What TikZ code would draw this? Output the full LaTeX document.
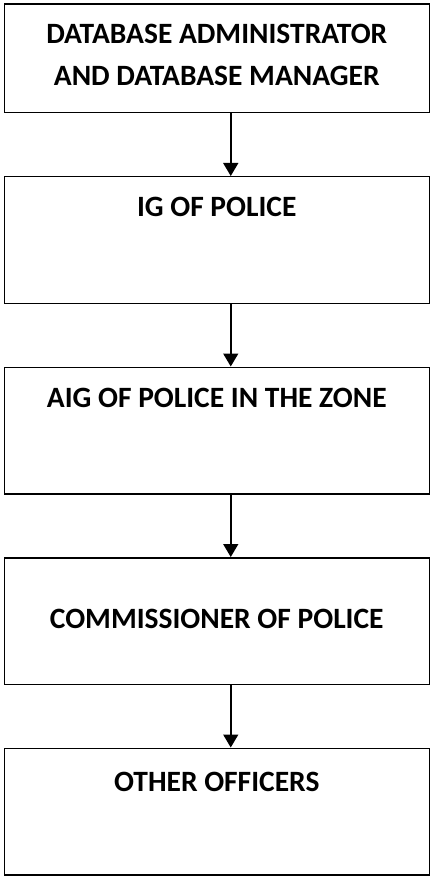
\documentclass[tikz,border=0pt]{standalone}
\usepackage{fontspec}
\setmainfont{Carlito}
\usepackage{tikz}
\usetikzlibrary{positioning, arrows.meta}

\begin{document}
\begin{tikzpicture}[
            x=1pt, y=1pt,
            node distance=62.5pt and 0pt,
            every node/.style={font=\bfseries\fontsize{29.5}{42}\selectfont},
            % Estilos
            level/.style 2 args={rectangle, draw=black, line width=1.5pt, minimum width=425pt, inner ysep=0pt, text height=#1, text depth=#2},
            arrow/.style={line width=1.5pt, -{Triangle[width=15pt,length=13pt]}}
        ]
            \useasboundingbox (0,0) rectangle (430,-877);

            % Nodos
            \node (dba) [level={80.8pt}{27.7pt}, align=center, below right=3.5pt and 3.5pt of {(0,0)}, anchor=north west] {DATABASE ADMINISTRATOR\\AND DATABASE MANAGER};
            \node (ig) [level={40pt}{86.5pt}, below=of dba] {IG OF POLICE};
            \node (aig) [level={40.5pt}{86pt}, below=of ig] {AIG OF POLICE IN THE ZONE};
            \node (cp) [level={70.5pt}{56pt}, below=of aig] {COMMISSIONER OF POLICE};
            \node (officers) [level={43.5pt}{83pt}, below=of cp] {OTHER OFFICERS};

            % Conexiones
            \draw [arrow] ([xshift=14pt]dba.south) -- ([xshift=14pt]ig.north);
            \draw [arrow] ([xshift=14pt]ig.south) -- ([xshift=14pt]aig.north);
            \draw [arrow] ([xshift=14pt]aig.south) -- ([xshift=14pt]cp.north);
            \draw [arrow] ([xshift=14pt]cp.south) -- ([xshift=14pt]officers.north);
        \end{tikzpicture}
\end{document}
